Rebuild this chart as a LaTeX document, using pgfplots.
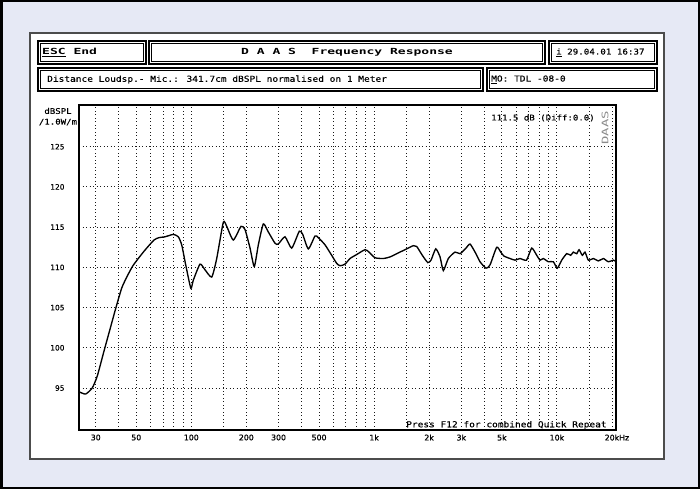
\documentclass[border=0pt]{standalone}
\usepackage{fontspec}
\setmainfont{DejaVu Sans Mono}[FakeStretch=1.16, FakeBold=0.35]
\newfontfamily\hdr{DejaVu Sans Mono}[FakeStretch=1.55]
\newfontfamily\tck{DejaVu Sans}[FakeBold=0.6]
\usepackage{pgfplots}
\pgfplotsset{compat=1.18}
\definecolor{lav}{RGB}{230,233,245}

% double framed header box: x1 y1 x2 y2
\newcommand\dbox[4]{%
  \draw[line width=1.6pt] (#1,#2) rectangle (#3,#4);
  \draw[line width=0.5pt] ({#1+2.4},{#2+2.4}) rectangle ({#3-2.4},{#4-2.4});}

\begin{document}
\begin{tikzpicture}[x=1pt,y=1pt]
  \useasboundingbox (0,0) rectangle (700,489);
  \fill[black] (0,0) rectangle (700,489);
  \fill[lav] (2.5,2.5) rectangle (697.5,486.5);
  \filldraw[fill=white, draw=black!70, line width=1.5pt] (30,30) rectangle (664,456);

  % header
  \dbox{38}{425}{146}{448}
  \dbox{149}{425}{545}{448}
  \dbox{549}{425}{657}{448}
  \dbox{38}{398}{483}{421}
  \dbox{487}{398}{657}{421}

  \node[anchor=west, inner sep=0, font=\hdr\bfseries\fontsize{8.4}{9}\selectfont] at (42,436.5) {\underline{ESC} End};
  \node[inner sep=0, font=\hdr\bfseries\fontsize{8.4}{9}\selectfont] at (347,436.5) {D A A S\ \ Frequency Response};
  \node[anchor=west, inner sep=0, font=\fontsize{7.9}{9}\selectfont] at (556,436.5) {\underline{i} 29.04.01 16:37};
  \node[anchor=west, inner sep=0, font=\fontsize{8.2}{9}\selectfont] at (47,409.5) {Distance Loudsp.- Mic.: 341.7cm dBSPL normalised on 1 Meter};
  \node[anchor=west, inner sep=0, font=\fontsize{8.2}{9}\selectfont] at (491,409.5) {\underline{M}O: TDL -08-0};

  \begin{axis}[
      at={(79pt,59pt)}, anchor=south west,
      scale only axis, width=537pt, height=325pt,
      xmode=log, log basis x=10,
      xmin=24.3, xmax=21050, ymin=89.78, ymax=130.19,
      xtick={30,50,100,200,300,500,1000,2000,3000,5000,10000,20000},
      xticklabels={30,50,100,200,300,500,1k,2k,3k,5k,10k,20k\rlap{Hz}},
      minor xtick={40,60,70,80,90,150,400,600,700,800,900,1500,4000,6000,7000,8000,9000,15000},
      ytick={95,100,105,110,115,120,125},
      grid=both,
      major grid style={black!90, line width=0.9pt, dash pattern=on 0.9pt off 2.6pt},
      minor grid style={black!90, line width=0.9pt, dash pattern=on 0.9pt off 2.6pt},
      major tick length=0pt, minor tick length=0pt,
      axis line style={line width=1.3pt},
      /pgf/number format/assume math mode=true,
      xticklabel style={font=\tck\fontsize{7.8}{9}\selectfont, yshift=-1pt},
      yticklabel style={font=\tck\fontsize{7.4}{9}\selectfont, xshift=-11pt},
    ]
    \addplot[black, line width=1.35pt, smooth, tension=0.35] coordinates {
      (24.3,94.54) (26.4,94.25) (28.7,95.0) (30.6,96.5) (33.3,99.6)
      (36.2,102.6) (38.6,104.9) (41.9,107.6) (47.6,110.1) (55.1,112.0)
      (62.5,113.4) (66.6,113.7) (71.8,113.8) (79.7,114.1) (84.9,113.8)
      (88.6,112.8) (93.2,110.3) (99.4,107.4) (102.5,108.4) (111.6,110.4)
      (118.8,109.7) (129.3,108.8) (137.7,111.1) (149.6,115.6) (156.2,115.1)
      (169.7,113.4) (187,115.1) (196.7,114.7) (209.5,112.4) (221,110.1)
      (232.6,112.8) (247.7,115.4) (263.8,114.4) (287,113.0) (299,112.9)
      (325.5,113.8) (354.2,112.4) (389.8,114.5) (406.9,114.1) (436.5,112.3)
      (475,113.9) (495,113.7) (538.8,112.8) (586,111.5) (624,110.5)
      (651,110.2) (693,110.4) (738,111.1) (803,111.6) (891.7,112.2)
      (937.8,111.9) (1011,111.2) (1123,111.1) (1222,111.3) (1356,111.8)
      (1508,112.3) (1639,112.7) (1710,112.6) (1835,111.5) (1965,110.6)
      (2048,110.9) (2173,112.3) (2294,111.3) (2391,109.6) (2546,111.1)
      (2771,111.9) (2951,111.7) (3182,112.4) (3346,112.9) (3565,111.9)
      (3796,110.7) (4094,109.9) (4305,110.3) (4684,112.5) (4927,111.9)
      (5136,111.4) (5538,111.1) (5899,110.9) (6283,111.1) (6820,110.9)
      (7280,112.4) (7755,111.5) (8081,110.9) (8424,111.1) (8974,110.7)
      (9557,110.7) (10050,109.9) (10624,110.9) (11315,111.7) (11898,111.5)
      (12293,111.9) (12834,111.7) (13212,112.2) (13772,111.5) (14246,111.9)
      (14853,110.9) (15818,111.1) (16850,110.8) (17945,111.1) (19104,110.7)
      (20347,110.9) (20787,110.8)
    };
  \end{axis}

  \node[inner sep=0, font=\fontsize{7.8}{9}\selectfont] at (58,378) {dBSPL};
  \node[inner sep=0, font=\fontsize{7.8}{9}\selectfont] at (58,367) {/1.0W/m};
  \node[anchor=west, inner sep=0, font=\fontsize{7.8}{9}\selectfont] at (491,371) {111.5 dB (Diff:0.0)};
  \node[rotate=90, inner sep=0, text=black!45, font=\hdr\fontsize{9}{9}\selectfont] at (605,361) {DAAS};
  \node[anchor=west, inner sep=0, font=\fontsize{8.2}{9}\selectfont] at (406,64) {Press F12 for combined Quick Repeat};
\end{tikzpicture}
\end{document}
